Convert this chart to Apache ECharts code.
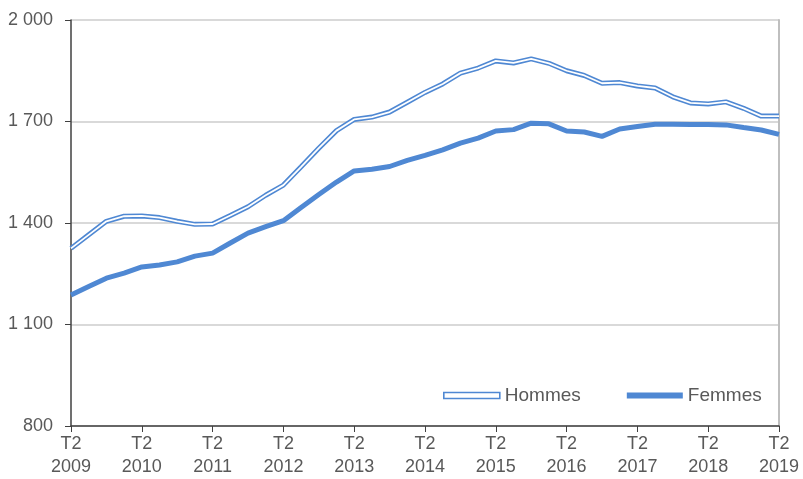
<!DOCTYPE html>
<html>
<head>
<meta charset="utf-8">
<script src="https://cdn.jsdelivr.net/npm/echarts@6/dist/echarts.min.js"></script>
<style>
  html, body { margin: 0; padding: 0; background: #fff; }
  #chart { width: 803px; height: 479px; }
</style>
</head>
<body>
<div id="chart"></div>
<script>
// quarters T2 2009 .. T2 2019
const years = [2009, 2010, 2011, 2012, 2013, 2014, 2015, 2016, 2017, 2018, 2019];
const quarters = [];
for (let i = 0; i < 41; i++) {
  const q = ((i + 1) % 4) + 1;
  const y = 2009 + Math.floor((i + 1) / 4);
  quarters.push('T' + q + '\n' + y);
}

const hommes = [1325, 1365, 1405, 1420, 1421, 1416, 1405, 1396, 1397, 1422,
  1448, 1482, 1512, 1566, 1621, 1673, 1706, 1713, 1728, 1757,
  1786, 1811, 1843, 1858, 1879, 1873, 1885, 1872, 1850, 1836,
  1813, 1815, 1805, 1799, 1773, 1755, 1752, 1758, 1739, 1716, 1716];

const femmes = [1187, 1212, 1237, 1252, 1270, 1276, 1285, 1302, 1311, 1341,
  1370, 1389, 1407, 1446, 1484, 1521, 1554, 1559, 1567, 1585,
  1600, 1616, 1636, 1651, 1672, 1676, 1695, 1693, 1672, 1669,
  1656, 1678, 1685, 1692, 1692, 1691, 1691, 1690, 1682, 1675, 1662];

const blue = '#4f88d3';
const txt = '#595959';

let myChart = echarts.init(document.getElementById('chart'));
myChart.setOption({
  animation: false,
  grid: { left: 71, right: 24, top: 20, bottom: 53 },
  legend: {
    left: 438,
    top: 381,
    itemWidth: 56,
    itemHeight: 6,
    itemGap: 46,
    textStyle: { color: txt, fontSize: 19, fontFamily: 'Liberation Sans' },
    data: [
      { name: 'Hommes', icon: 'rect', itemStyle: { color: '#fff', borderColor: blue, borderWidth: 1.6 } },
      { name: 'Femmes', icon: 'rect', itemStyle: { color: blue, borderWidth: 0 } }
    ]
  },
  xAxis: {
    type: 'category',
    data: quarters,
    boundaryGap: false,
    axisLine: { lineStyle: { color: '#404040', width: 1.5 } },
    axisTick: { interval: (i) => i % 4 === 0, length: 6, lineStyle: { color: '#404040' } },
    axisLabel: {
      interval: (i) => i % 4 === 0,
      color: txt,
      fontSize: 18,
      fontFamily: 'Liberation Sans',
      lineHeight: 23,
      margin: 7
    },
    splitLine: { show: false }
  },
  yAxis: [
    {
      type: 'value',
      min: 800,
      max: 2000,
      interval: 300,
      axisLine: { show: true, lineStyle: { color: '#404040', width: 1.5 } },
      axisTick: { show: true, length: 6, lineStyle: { color: '#404040' } },
      axisLabel: {
        color: txt,
        fontSize: 18,
        fontFamily: 'Liberation Sans',
        margin: 18,
        formatter: (v) => String(v).replace(/\B(?=(\d{3})+(?!\d))/g, ' ')
      },
      splitLine: { lineStyle: { color: '#d9d9d9', width: 2 } }
    },
    {
      type: 'value',
      position: 'right',
      min: 800,
      max: 2000,
      interval: 300,
      axisLine: { show: true, lineStyle: { color: '#bfbfbf', width: 2 } },
      axisTick: { show: false },
      axisLabel: { show: false },
      splitLine: { show: false }
    }
  ],
  series: [
    {
      name: 'Hommes',
      type: 'line',
      data: hommes,
      showSymbol: false,
      lineStyle: { color: blue, width: 5 },
      itemStyle: { color: blue },
      z: 2
    },
    {
      name: 'Hommes_inner',
      type: 'line',
      data: hommes,
      showSymbol: false,
      lineStyle: { color: '#fff', width: 1.8 },
      itemStyle: { color: '#fff' },
      z: 3
    },
    {
      name: 'Femmes',
      type: 'line',
      data: femmes,
      showSymbol: false,
      lineStyle: { color: blue, width: 5 },
      itemStyle: { color: blue },
      z: 4
    }
  ]
});
window.onresize = myChart.resize;
</script>
</body>
</html>
